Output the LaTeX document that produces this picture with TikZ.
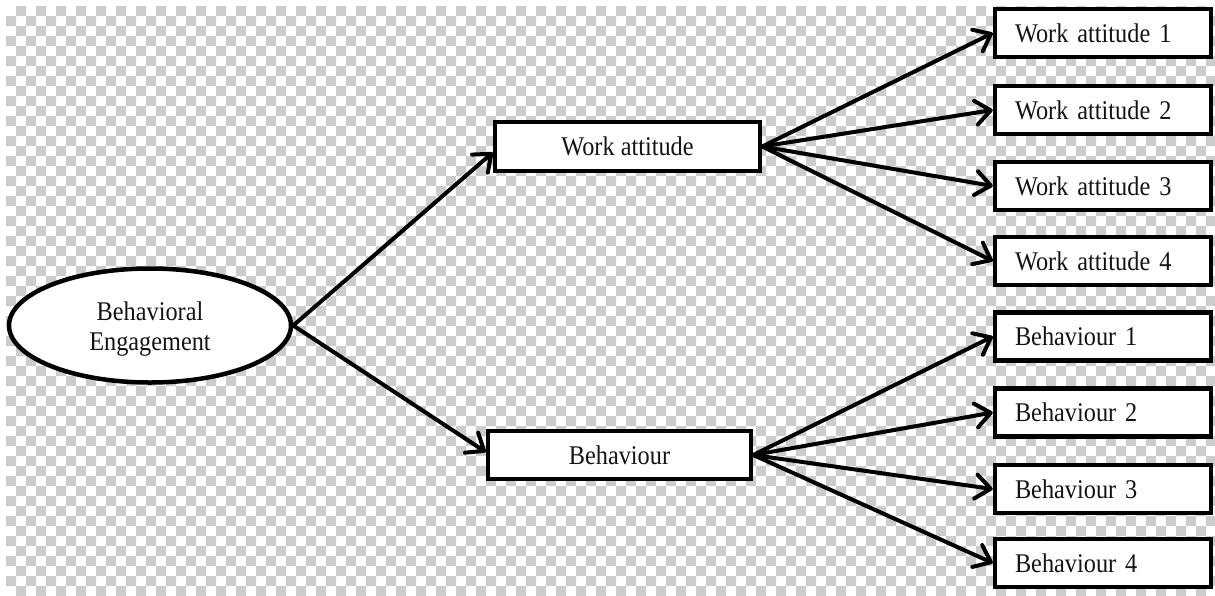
\documentclass[tikz,border=0pt]{standalone}
\usepackage{fontspec}
\setmainfont{Liberation Serif}[FakeStretch=0.9]
\usetikzlibrary{arrows.meta,shapes.geometric}
\definecolor{checkgray}{RGB}{204,204,204}
\definecolor{inkblack}{RGB}{0,0,0}
\definecolor{textblack}{RGB}{20,20,20}
\tikzset{
  lbl/.style={font=\fontsize{27}{30}\selectfont, text=textblack},
  box/.style={lbl, draw=inkblack, line width=4.5pt, fill=white, rectangle,
    minimum height=48pt, inner sep=0pt},
  leaf/.style={box, text width=176pt, inner xsep=20pt, align=left},
  hub/.style={box, minimum width=#1},
  oval/.style={draw=inkblack, line width=4.5pt, fill=white, ellipse,
    minimum width=282pt, minimum height=114pt, inner sep=0pt},
  link/.style={draw=inkblack, line width=4pt, line cap=round, line join=round,
    -{Straight Barb[length=15pt,width=24pt,round]}}
}
\begin{document}
\begin{tikzpicture}[x=1pt,y=-1pt]
  \useasboundingbox (0,0) rectangle (1215,595);
  % transparency-style checkerboard backdrop
  \begin{scope}
    \clip (0,0) rectangle (1215,595);
    \fill[checkgray]
      \foreach \r [evaluate=\r as \xo using {16-10*mod(\r,2)}] in {0,...,58} {
        \foreach \k in {0,...,60} {
          ({\xo+20*\k},{6+10*\r}) rectangle ++(10,10)
        }
      };
  \end{scope}

  % root construct
  \node[oval] (eng) at (150,325.5) {};
  \node[lbl, align=center] (engtext) at (150,329) {Behavioral\\Engagement};

  % dimensions
  \node[hub=265pt, minimum height=49pt] (wa)  at (627.5,146.5) {Work attitude};
  \node[hub=263pt] (beh) at (619.5,455) {Behaviour};

  % indicators
  \node[leaf] (wa1) at (1103,33)    {Work attitude 1};
  \node[leaf] (wa2) at (1103,110)   {Work attitude 2};
  \node[leaf] (wa3) at (1103,186)   {Work attitude 3};
  \node[leaf] (wa4) at (1103,261)   {Work attitude 4};
  \node[leaf] (b1)  at (1103,336.5) {Behaviour 1};
  \node[leaf] (b2)  at (1103,412.5) {Behaviour 2};
  \node[leaf] (b3)  at (1103,489)   {Behaviour 3};
  \node[leaf] (b4)  at (1103,563)   {Behaviour 4};

  % connectors
  \draw[link] (eng.east) -- ([yshift=-6pt]wa.west);
  \draw[link] (eng.east) -- ([yshift=3pt]beh.west);
  \foreach \n in {1,...,4} {
    \draw[link] (wa.east) -- (wa\n.west);
    \draw[link] (beh.east) -- (b\n.west);
  }
\end{tikzpicture}
\end{document}
